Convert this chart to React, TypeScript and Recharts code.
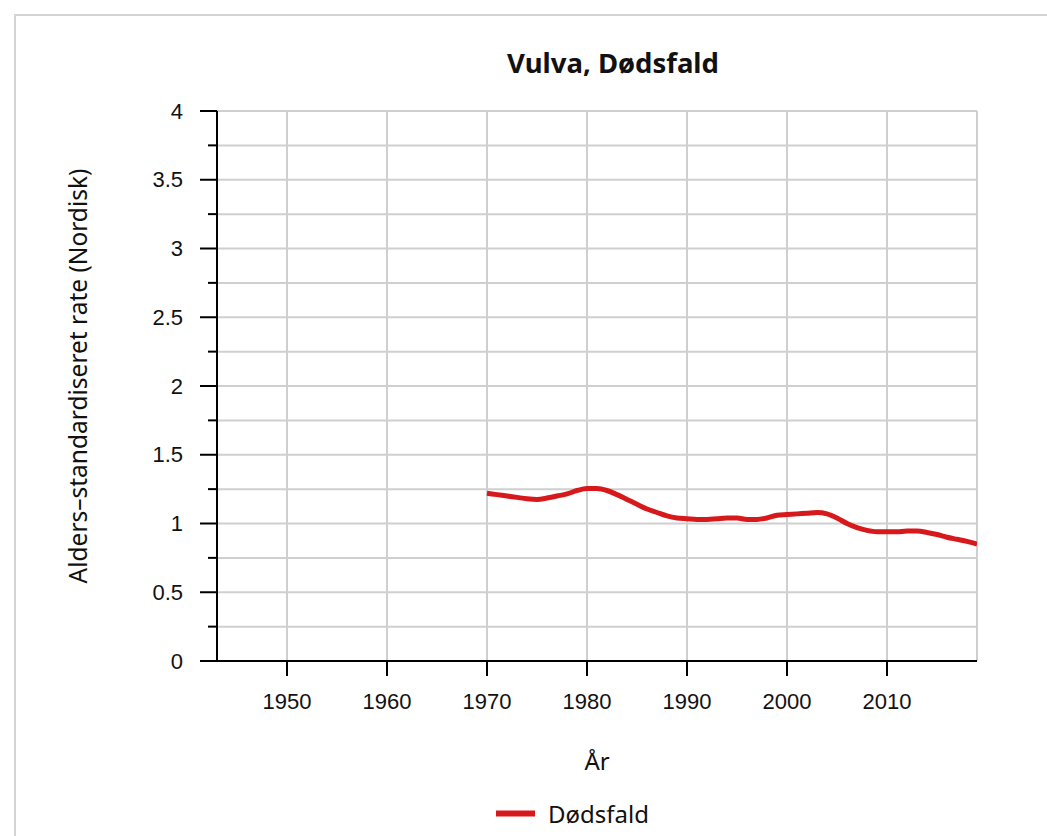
import { CartesianGrid, Line, LineChart, XAxis, YAxis } from 'recharts'

// Dødsfald, aldersstandardiseret rate pr. år
const years = [
  1970, 1971, 1972, 1973, 1974, 1975, 1976, 1977, 1978, 1979,
  1980, 1981, 1982, 1983, 1984, 1985, 1986, 1987, 1988, 1989,
  1990, 1991, 1992, 1993, 1994, 1995, 1996, 1997, 1998, 1999,
  2000, 2001, 2002, 2003, 2004, 2005, 2006, 2007, 2008, 2009,
  2010, 2011, 2012, 2013, 2014, 2015, 2016, 2017, 2018, 2019,
]
const deaths = [
  1.22, 1.21, 1.2, 1.19, 1.18, 1.175, 1.185, 1.2, 1.215, 1.24,
  1.255, 1.255, 1.24, 1.21, 1.175, 1.14, 1.105, 1.08, 1.055, 1.04,
  1.035, 1.03, 1.03, 1.035, 1.04, 1.04, 1.03, 1.03, 1.04, 1.06,
  1.065, 1.07, 1.075, 1.08, 1.07, 1.04, 1.0, 0.97, 0.95, 0.94,
  0.94, 0.94, 0.945, 0.945, 0.935, 0.92, 0.9, 0.885, 0.87, 0.85,
]
const xTicks = [1950, 1960, 1970, 1980, 1990, 2000, 2010]
const yTicks = [0, 0.25, 0.5, 0.75, 1, 1.25, 1.5, 1.75, 2, 2.25, 2.5, 2.75, 3, 3.25, 3.5, 3.75, 4]

const data = years.map((year, i) => ({ year, value: deaths[i] }))

const RED = '#d7191c'
const textFont = '"Noto Sans", sans-serif'
const tickFont = '"Liberation Sans", Arial, sans-serif'

function YTick(props: { x?: number; y?: number; payload?: { value: number } }) {
  const { x = 0, y = 0, payload } = props
  const v = payload?.value ?? 0
  const major = Math.abs(v * 2 - Math.round(v * 2)) < 1e-6
  return (
    <g>
      <line x1={x - (major ? 17 : 9)} x2={x} y1={y} y2={y} stroke="#000" strokeWidth={2} />
      {major ? (
        <text x={x - 34} y={y} textAnchor="end" dominantBaseline="central" fontSize={22} fontFamily={tickFont} fill="#111">
          {String(v)}
        </text>
      ) : null}
    </g>
  )
}

function XTick(props: { x?: number; y?: number; payload?: { value: number } }) {
  const { x = 0, y = 0, payload } = props
  return (
    <g>
      <line x1={x} x2={x} y1={y} y2={y + 15} stroke="#000" strokeWidth={2} />
      <text x={x} y={y + 40} textAnchor="middle" dominantBaseline="central" fontSize={22} fontFamily={tickFont} fill="#111">
        {payload?.value}
      </text>
    </g>
  )
}

export default function App() {
  return (
    <div style={{ position: 'absolute', left: 0, top: 0, width: 1047, height: 836, overflow: 'hidden', background: '#fff' }}>
      <div
        style={{
          position: 'absolute',
          left: 14,
          top: 14,
          width: 1100,
          height: 900,
          border: '2px solid #d4d4d4',
        }}
      />
      <div
        style={{
          position: 'absolute',
          left: 613,
          top: 62,
          transform: 'translate(-50%, -50%)',
          fontFamily: textFont,
          fontWeight: 700,
          fontSize: 27.5,
          whiteSpace: 'nowrap',
          color: '#111',
        }}
      >
        Vulva, Dødsfald
      </div>
      <div style={{ position: 'absolute', left: 0, top: 0 }}>
        <LineChart width={1047} height={836} data={data} margin={{ top: 111, right: 70, left: 117, bottom: 115 }}>
          <CartesianGrid stroke="#cfcfcf" strokeWidth={2} />
          <XAxis
            dataKey="year"
            type="number"
            domain={[1943, 2019]}
            ticks={xTicks}
            interval={0}
            height={60}
            tickSize={0}
            tickMargin={0}
            tickLine={false}
            axisLine={{ stroke: '#000', strokeWidth: 2 }}
            tick={<XTick />}
            allowDataOverflow
          />
          <YAxis
            type="number"
            domain={[0, 4]}
            ticks={yTicks}
            interval={0}
            width={100}
            tickSize={0}
            tickMargin={0}
            tickLine={false}
            axisLine={{ stroke: '#000', strokeWidth: 2 }}
            tick={<YTick />}
          />
          <Line
            type="monotone"
            dataKey="value"
            stroke={RED}
            strokeWidth={5}
            dot={false}
            activeDot={false}
            isAnimationActive={false}
          />
        </LineChart>
      </div>
      <div
        style={{
          position: 'absolute',
          left: 77,
          top: 376,
          transform: 'translate(-50%, -50%) rotate(-90deg)',
          fontFamily: textFont,
          fontSize: 24.5,
          whiteSpace: 'nowrap',
          color: '#111',
        }}
      >
        Alders–standardiseret rate (Nordisk)
      </div>
      <div
        style={{
          position: 'absolute',
          left: 597,
          top: 760,
          transform: 'translate(-50%, -50%)',
          fontFamily: textFont,
          fontSize: 24,
          whiteSpace: 'nowrap',
          color: '#111',
        }}
      >
        År
      </div>
      <div
        style={{
          position: 'absolute',
          left: 496,
          top: 813,
          transform: 'translateY(-50%)',
          display: 'flex',
          alignItems: 'center',
          fontFamily: textFont,
          fontSize: 24,
          whiteSpace: 'nowrap',
          color: '#111',
        }}
      >
        <span style={{ display: 'inline-block', width: 39, height: 6, background: RED, marginRight: 13 }} />
        Dødsfald
      </div>
    </div>
  )
}
